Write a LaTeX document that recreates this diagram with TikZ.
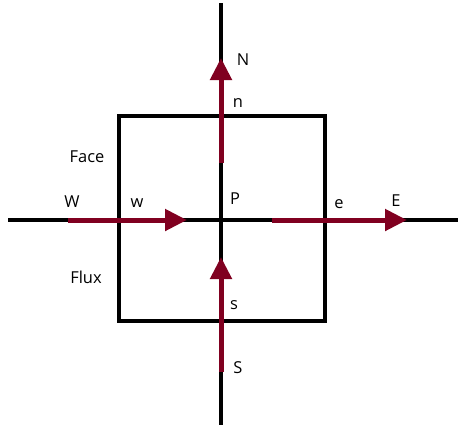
\documentclass[tikz,border=0pt]{standalone}
\usepackage{fontspec}
\setmainfont{Open Sans}
\usetikzlibrary{arrows.meta}
\definecolor{flux}{RGB}{128,0,32}
\begin{document}
\begin{tikzpicture}[x=1bp,y=-1bp,
  axis/.style={line width=4bp,black},
  box/.style={line width=4bp,black},
  fluxarrow/.style={line width=5bp,flux,-{Triangle[length=22bp,width=21bp]}},
  lbl/.style={font=\fontsize{16.5}{19}\selectfont,inner sep=0pt}]
\useasboundingbox (0,0) rectangle (459,425);
% axes
\coordinate (top) at (221,3);
\coordinate (bot) at (221,425);
\coordinate (left) at (8,220);
\coordinate (right) at (458,220);
\draw[axis] (top) -- (bot);
\draw[axis] (left) -- (right);
% control volume
\coordinate (sw) at (119,321);
\coordinate (ne) at (325,116);
\draw[box] (sw) rectangle (ne);
% flux arrows
\coordinate (nstart) at (221,163);
\coordinate (ntip) at (221,58);
\coordinate (wstart) at (68,220);
\coordinate (wtip) at (187,220);
\coordinate (estart) at (272,220);
\coordinate (etip) at (407,220);
\coordinate (sstart) at (221,372);
\coordinate (stip) at (221,257);
\draw[fluxarrow] (nstart) -- (ntip);
\draw[fluxarrow] (wstart) -- (wtip);
\draw[fluxarrow] (estart) -- (etip);
\draw[fluxarrow] (sstart) -- (stip);
% labels
\node[lbl] (N) at (243,60) {N};
\node[lbl] (n) at (238,103) {n};
\node[lbl] (face) at (87,157) {Face};
\node[lbl] (P) at (235,199) {P};
\node[lbl] (W) at (72,202) {W};
\node[lbl] (w) at (137,203) {w};
\node[lbl] (e) at (339,204) {e};
\node[lbl] (E) at (396,201) {E};
\node[lbl] (flux) at (86,277) {Flux};
\node[lbl] (s) at (234,305) {s};
\node[lbl] (S) at (238,368) {S};
\end{tikzpicture}
\end{document}
